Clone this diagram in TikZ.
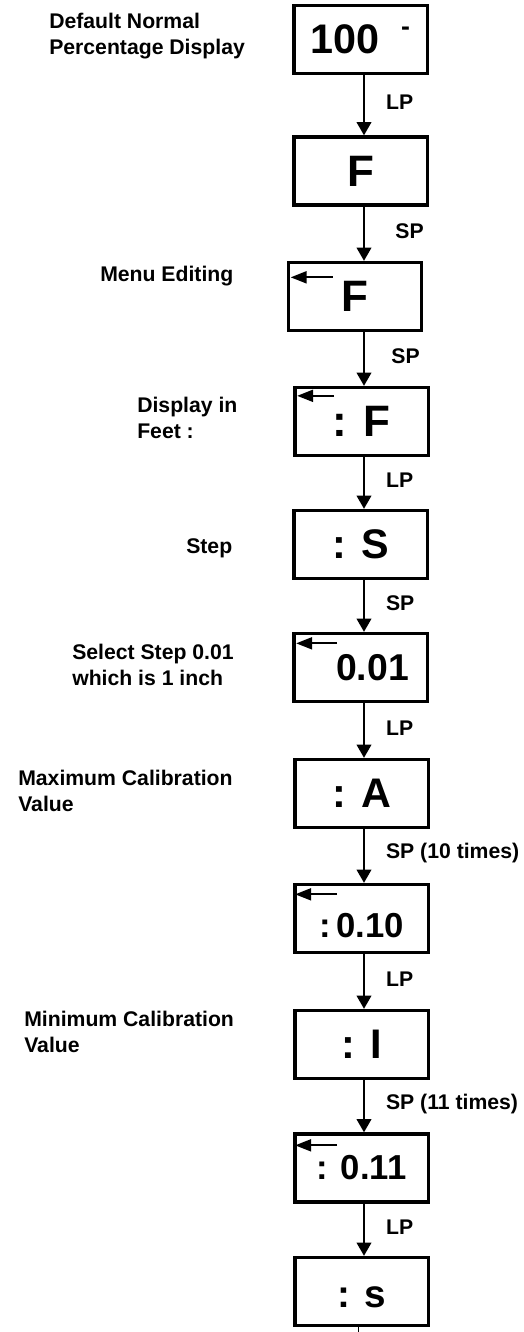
\documentclass[tikz,border=0pt]{standalone}
\usepackage{fontspec}
\setmainfont{Liberation Sans}
\usetikzlibrary{positioning,arrows.meta}
\newcommand\dispsize[1]{\fontsize{#1}{#1}\selectfont}

\begin{document}
\begin{tikzpicture}[x=0.75pt,y=-0.75pt,
    disp/.style={draw,line width=2.5pt,minimum width=100pt,minimum height=51pt,inner sep=0pt,font=\bfseries},
    note/.style={anchor=west,align=left,inner sep=0pt,font=\bfseries\fontsize{15.9}{19.5}\selectfont},
    lbl/.style={inner sep=0pt,right=15.75pt,yshift=2pt,font=\bfseries\fontsize{15.9}{19.5}\selectfont},
    flow/.style={-{Triangle[length=10pt,width=11pt]},line width=1.6pt},
    ptr/.style={-{Triangle[length=12pt,width=9pt]},line width=1.6pt}]
    \useasboundingbox (0,0) rectangle (524,1332);
    \node[disp] (b1) at (360.5,39.5) {\dispsize{31}100\hspace{16pt}\raisebox{14pt}{\dispsize{20}-}};
    \node[disp] (b2) at (360.5,171) {\dispsize{33}F};
    \node[disp] (b3) at (355,296.5) {\dispsize{33}F};
    \node[disp] (b4) at (361.5,421.5) {\dispsize{33}: F\hspace{13.5pt}};
    \node[disp] (b5) at (360.5,544.5) {\dispsize{31}: S\hspace{11pt}};
    \node[disp] (b6) at (360.5,667.5) {\dispsize{28}\hspace{18pt}0.01};
    \node[disp] (b7) at (361.5,793.5) {\dispsize{31}: A\hspace{9pt}};
    \node[disp] (b8) at (361.5,918.5) {\dispsize{26}\raisebox{-5pt}[\height][0pt]{:\,0.10}};
    \node[disp] (b9) at (361.5,1044.5) {\dispsize{31}: I\hspace{24pt}};
    \node[disp] (b10) at (361.5,1168) {\dispsize{26}: 0.11};
    \node[disp] (b11) at (361.5,1291.5) {\dispsize{29}\raisebox{-4pt}[\height][0pt]{: s}\hspace{15pt}};

    \draw[ptr] ([shift={(46,16.5)}]b3.north west) -- ([shift={(4,16.5)}]b3.north west);
    \draw[ptr] ([shift={(41,10)}]b4.north west) -- ([shift={(4,10)}]b4.north west);
    \draw[ptr] ([shift={(45,11.5)}]b6.north west) -- ([shift={(4,11.5)}]b6.north west);
    \draw[ptr] ([shift={(44,11.5)}]b8.north west) -- ([shift={(2,11.5)}]b8.north west);
    \draw[ptr] ([shift={(44,13)}]b10.north west) -- ([shift={(2,13)}]b10.north west);

    \coordinate (ax) at (364,0);
    \draw[flow] (b1.south -| ax) -- (b2.north -| ax) node[lbl,midway] {LP};
    \draw[flow] (b2.south -| ax) -- (b3.north -| ax) node[lbl,midway,xshift=7pt] {SP};
    \draw[flow] (b3.south -| ax) -- (b4.north -| ax) node[lbl,midway,xshift=4pt] {SP};
    \draw[flow] (b4.south -| ax) -- (b5.north -| ax) node[lbl,midway] {LP};
    \draw[flow] (b5.south -| ax) -- (b6.north -| ax) node[lbl,midway] {SP};
    \draw[flow] (b6.south -| ax) -- (b7.north -| ax) node[lbl,midway] {LP};
    \draw[flow] (b7.south -| ax) -- (b8.north -| ax) node[lbl,midway] {SP (10 times)};
    \draw[flow] (b8.south -| ax) -- (b9.north -| ax) node[lbl,midway] {LP};
    \draw[flow] (b9.south -| ax) -- (b10.north -| ax) node[lbl,midway] {SP (11 times)};
    \draw[flow] (b10.south -| ax) -- (b11.north -| ax) node[lbl,midway] {LP};
    \coordinate (tk) at (358.5,0);
    \draw[line width=0.8pt] (b11.south -| tk) -- ++(0,8);

    \node[note] (n1) at (49,36) {Default Normal\\Percentage Display};
    \node[note] (n2) at (100,276) {Menu Editing};
    \node[note] (n3) at (137,418) {Display in\\Feet :};
    \node[note] (n4) at (186,548) {Step};
    \node[note] (n5) at (72,665) {Select Step 0.01\\which is 1 inch};
    \node[note] (n6) at (18,791) {Maximum Calibration\\Value};
    \node[note] (n7) at (24,1032) {Minimum Calibration\\Value};
\end{tikzpicture}
\end{document}
